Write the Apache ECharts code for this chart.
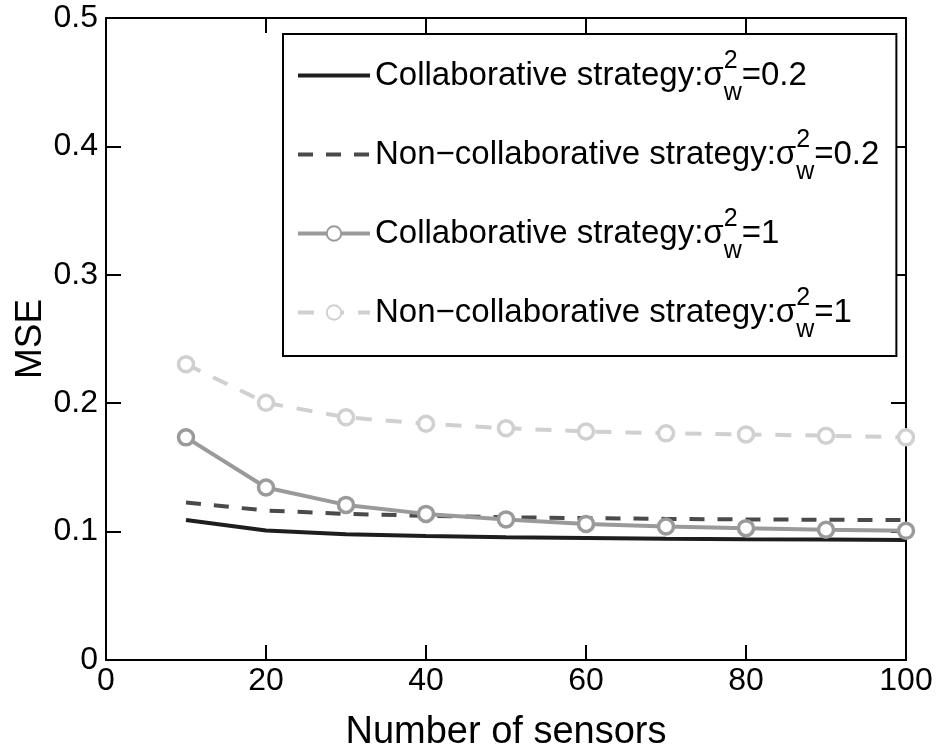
<!DOCTYPE html>
<html>
<head>
<meta charset="utf-8">
<script src="https://cdn.jsdelivr.net/npm/echarts@6/dist/echarts.min.js"></script>
<style>
html,body{margin:0;padding:0;background:#fff;}
#chart{width:938px;height:751px;}
</style>
</head>
<body>
<div id="chart"></div>
<script>
// Data
const sensors = [10, 20, 30, 40, 50, 60, 70, 80, 90, 100];
const collab02 = [0.109, 0.1008, 0.098, 0.0966, 0.0956, 0.095, 0.0945, 0.0941, 0.0938, 0.0935];
const noncollab02 = [0.1226, 0.1164, 0.1138, 0.1123, 0.1112, 0.1105, 0.1099, 0.1095, 0.1092, 0.109];
const collab1 = [0.1734, 0.1343, 0.1208, 0.1138, 0.1095, 0.106, 0.104, 0.1027, 0.1014, 0.1006];
const noncollab1 = [0.2304, 0.2003, 0.189, 0.184, 0.1805, 0.178, 0.1765, 0.1757, 0.1747, 0.1734];
const xTicks = [0, 20, 40, 60, 80, 100];
const yTicks = [0, 0.1, 0.2, 0.3, 0.4, 0.5];

const names = ['c02', 'n02', 'c1', 'n1'];
const legendText = {
  c02: 'Collaborative strategy:σ{sup|2}{sub|w}=0.2',
  n02: 'Non−collaborative strategy:σ{sup|2}{sub|w}=0.2',
  c1: 'Collaborative strategy:σ{sup|2}{sub|w}=1',
  n1: 'Non−collaborative strategy:σ{sup|2}{sub|w}=1'
};

function pairs(ys) { return sensors.map((x, i) => [x, ys[i]]); }

const FONT = '"Liberation Sans", Arial, sans-serif';
const chart = echarts.init(document.getElementById('chart'));

const tickLabelStyle = { color: '#000', fontSize: 32, fontFamily: FONT };
const C = { c02: '#1e1e1e', n02: '#4a4a4a', c1: '#9a9a9a', n1: '#d0d0d0' };

chart.setOption({
  animation: false,
  backgroundColor: '#fff',
  grid: { left: 106, right: 32, top: 18, bottom: 91, containLabel: false, outerBoundsMode: 'none' },
  xAxis: [{
    type: 'value', min: xTicks[0], max: xTicks[xTicks.length - 1], interval: 20,
    position: 'bottom',
    name: 'Number of sensors', nameLocation: 'middle', nameGap: 54, nameMoveOverlap: false,
    nameTextStyle: { color: '#000', fontSize: 38, fontFamily: FONT },
    axisLine: { show: true, onZero: false, lineStyle: { color: '#000', width: 2 } },
    axisTick: { show: true, inside: true, length: 15, lineStyle: { color: '#000', width: 2 } },
    axisLabel: Object.assign({ margin: 5 }, tickLabelStyle),
    splitLine: { show: false }
  }, {
    type: 'value', min: 0, max: 100, interval: 20, position: 'top',
    axisLine: { show: true, onZero: false, lineStyle: { color: '#000', width: 2 } },
    axisTick: { show: true, inside: true, length: 15, lineStyle: { color: '#000', width: 2 } },
    axisLabel: { show: false }, splitLine: { show: false }
  }],
  yAxis: [{
    type: 'value', min: yTicks[0], max: yTicks[yTicks.length - 1], interval: 0.1,
    position: 'left',
    name: 'MSE', nameLocation: 'middle', nameGap: 57, nameRotate: 90, nameMoveOverlap: false,
    nameTextStyle: { color: '#000', fontSize: 37, fontFamily: FONT },
    axisLine: { show: true, onZero: false, lineStyle: { color: '#000', width: 2 } },
    axisTick: { show: true, inside: true, length: 15, lineStyle: { color: '#000', width: 2 } },
    axisLabel: Object.assign({ margin: 8, formatter: v => (v === 0 ? '0' : v.toFixed(1)) }, tickLabelStyle),
    splitLine: { show: false }
  }, {
    type: 'value', min: 0, max: 0.5, interval: 0.1, position: 'right',
    axisLine: { show: true, onZero: false, lineStyle: { color: '#000', width: 2 } },
    axisTick: { show: true, inside: true, length: 15, lineStyle: { color: '#000', width: 2 } },
    axisLabel: { show: false }, splitLine: { show: false }
  }],
  legend: {
    orient: 'vertical', left: 283, top: 34,
    data: [
      { name: 'c02', itemStyle: { color: 'rgba(0,0,0,0)', borderWidth: 0 }, lineStyle: { width: 4, color: C.c02 } },
      { name: 'n02', itemStyle: { color: 'rgba(0,0,0,0)', borderWidth: 0 }, lineStyle: { width: 4, color: C.n02 } },
      { name: 'c1', lineStyle: { width: 4, color: C.c1 } },
      { name: 'n1', lineStyle: { width: 4, color: C.n1 } }
    ],
    backgroundColor: '#fff',
    borderColor: '#000', borderWidth: 2, borderRadius: 0,
    padding: [15, 17, 13, 13],
    itemGap: 22, itemWidth: 72, itemHeight: 18,
    formatter: n => legendText[n],
    textStyle: {
      color: '#000', fontSize: 33, fontFamily: FONT,
      rich: {
        sup: { fontSize: 25, fontFamily: FONT, color: '#000', width: 0, padding: [0, 0, 28, 0] },
        sub: { fontSize: 25, fontFamily: FONT, color: '#000', padding: [36, 0, 0, 0] }
      }
    }
  },
  series: [{
    name: 'c02', type: 'line', data: pairs(collab02),
    showSymbol: false, symbol: 'none',
    lineStyle: { color: C.c02, width: 4 }, itemStyle: { color: C.c02 }
  }, {
    name: 'n02', type: 'line', data: pairs(noncollab02),
    showSymbol: false, symbol: 'none',
    lineStyle: { color: C.n02, width: 4, type: [15, 13] }, itemStyle: { color: C.n02 }
  }, {
    name: 'c1', type: 'line', data: pairs(collab1),
    symbol: 'circle', symbolSize: 15,
    lineStyle: { color: C.c1, width: 4 },
    itemStyle: { color: '#fff', borderColor: C.c1, borderWidth: 3.5 }
  }, {
    name: 'n1', type: 'line', data: pairs(noncollab1),
    symbol: 'circle', symbolSize: 15,
    lineStyle: { color: C.n1, width: 4, type: [16, 14] },
    itemStyle: { color: '#fff', borderColor: C.n1, borderWidth: 3.5 }
  }]
});
</script>
</body>
</html>
